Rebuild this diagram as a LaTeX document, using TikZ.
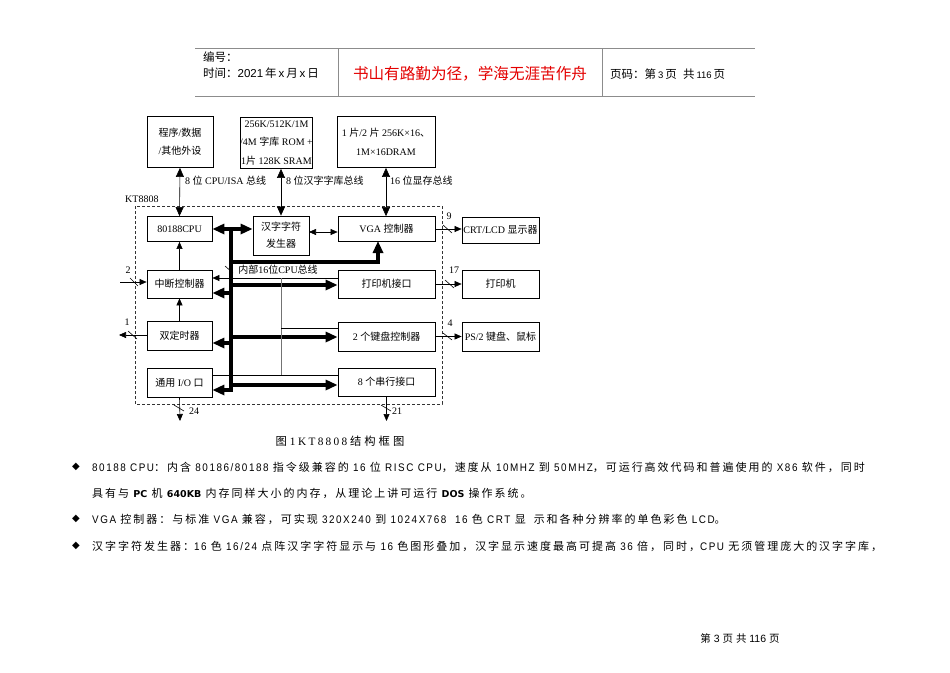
\documentclass[tikz,border=0pt]{standalone}
\usepackage{fontspec}
\usetikzlibrary{arrows.meta}
\setmainfont{Liberation Serif}
\setsansfont{Liberation Sans}
\newfontfamily\cjk{Noto Sans CJK SC}
\newfontfamily\bodycjk[LetterSpace=18]{Noto Sans CJK SC}
\newfontfamily\capcjk[LetterSpace=27]{Noto Sans CJK SC}
\newfontfamily\bodylat[FakeStretch=0.9,LetterSpace=14]{Liberation Sans}
\newfontfamily\bodybold{DejaVu Sans}
\newfontfamily\dejavu{DejaVu Sans}
% automatic switch to the CJK font for CJK characters
\XeTeXinterchartokenstate=1
\newXeTeXintercharclass\CJKcls
\newcommand\CJKsw{\cjk}
\makeatletter
\def\setCJKrange#1#2{\count@=#1\relax
  \loop\XeTeXcharclass\count@=\CJKcls\relax
  \ifnum\count@<#2\relax\advance\count@\@ne\repeat}
\makeatother
\setCJKrange{"4E00}{"9FFF}
\setCJKrange{"3000}{"303F}
\setCJKrange{"FF00}{"FFEF}
\XeTeXinterchartoks 0 \CJKcls = {\begingroup\CJKsw}
\XeTeXinterchartoks 4095 \CJKcls = {\begingroup\CJKsw}
\XeTeXinterchartoks \CJKcls 0 = {\endgroup}
\XeTeXinterchartoks \CJKcls 4095 = {\endgroup}
\newcommand\dfont{\fontsize{10}{12}\selectfont}
\newcommand\bodyfont{\fontsize{11}{13}\selectfont\bodylat\let\CJKsw\bodycjk}
\newcommand\bb[1]{{\bodybold\bfseries\fontsize{9.5}{11}\selectfont #1}}
\definecolor{hdrgray}{gray}{0.55}
\definecolor{redtxt}{RGB}{228,0,0}
\begin{document}
\begin{tikzpicture}[x=1pt,y=-1pt,
  box/.style={draw=black, line width=0.8pt, inner sep=1pt, font=\dfont},
  thinln/.style={line width=0.6pt},
  busln/.style={line width=3.6pt},
  tip/.style={-{Triangle[length=7pt,width=6pt]}},
  dtip/.style={{Triangle[length=7pt,width=6pt]}-{Triangle[length=7pt,width=6pt]}},
  bigd/.style={{Triangle[length=9pt,width=8pt]}-{Triangle[length=9pt,width=8pt]}},
  btip/.style={-{Triangle[length=12pt,width=10pt]}},
  bdtip/.style={{Triangle[length=12pt,width=10pt]}-{Triangle[length=12pt,width=10pt]}},
  lbl/.style={font=\dfont, inner sep=0pt},
  hdrtxt/.style={anchor=west, inner sep=0pt, font=\sffamily\fontsize{11.5}{13}\selectfont},
  bullet/.style={inner sep=0pt, font=\dejavu\fontsize{10}{10}\selectfont},
  bodyln/.style={anchor=west, inner sep=0pt, font=\bodyfont},
  hdr/.style={draw=hdrgray, line width=1pt}]
\fill[white] (0,0) rectangle (950,672);
\useasboundingbox (0,0) rectangle (950,672);

% header
\draw[hdr] (195,48) -- (755,48);
\draw[hdr] (195,96) -- (755,96);
\draw[hdr] (338,48) -- (338,96);
\draw[hdr] (602,48) -- (602,96);
\node[hdrtxt] (hno) at (203,57) {编号：};
\node[hdrtxt] (hdate) at (203,73) {时间：2021\,年\,x\,月\,x\,日};
\node[inner sep=0pt, text=redtxt, font=\fontsize{15.6}{18}\selectfont] (motto) at (470,74) {书山有路勤为径，学海无涯苦作舟};
\node[hdrtxt] (hpage) at (610,74) {页码：第\,{\fontsize{9.5}{11}\selectfont 3}\,页\ \ 共\,{\fontsize{9.5}{11}\selectfont 116}\,页};

% external boxes (top)
\node[box, minimum width=66pt, minimum height=51pt, align=center, font=\fontsize{10}{18}\selectfont] (ext1) at (180,142) {程序/数据\\/其他外设};
\node[box, minimum width=71pt, minimum height=51pt, align=center, inner sep=0pt, font=\fontsize{10}{18.5}\selectfont] (ext2) at (276.5,143) {256K/512K/1M\\/4M 字库 ROM +\\1片 128K SRAM};
\node[box, minimum width=98pt, minimum height=51pt, align=center, font=\fontsize{10}{19}\selectfont] (ext3) at (386,142) {1 片/2 片 256K×16、\\1M×16DRAM};

% bus labels
\node[lbl, anchor=west] (l1) at (185,181) {8 位 CPU/ISA 总线};
\node[lbl, anchor=west] (l2) at (286,181) {8 位汉字字库总线};
\node[lbl, anchor=west] (l3) at (390,181) {16 位显存总线};

% chip frame
\node[lbl, anchor=west] (kt) at (125,199) {KT8808};
\draw[line width=0.6pt, dash pattern=on 3pt off 2pt, draw=black!80] (135,206) rectangle (442,404);

% inner blocks
\node[box, minimum width=65pt, minimum height=25pt] (cpu) at (179.5,229) {80188CPU};
\node[box, minimum width=65pt, minimum height=28pt] (irq) at (179.5,284) {中断控制器};
\node[box, minimum width=65pt, minimum height=29pt] (tmr) at (179.5,336) {双定时器};
\node[box, minimum width=65pt, minimum height=29pt] (io) at (179.5,382.5) {通用 I/O 口};
\node[box, minimum width=56pt, minimum height=39pt, align=center, font=\fontsize{10}{17}\selectfont] (hz) at (281,235.5) {汉字字符\\发生器};
\node[box, minimum width=97pt, minimum height=25pt] (vga) at (386.5,229) {VGA 控制器};
\node[box, minimum width=97pt, minimum height=28pt] (prt) at (386.5,284) {打印机接口};
\node[box, minimum width=97pt, minimum height=29pt] (kbd) at (386.5,336.5) {2 个键盘控制器};
\node[box, minimum width=97pt, minimum height=28pt] (ser) at (386.5,382) {8 个串行接口};

% outside devices
\node[box, minimum width=77pt, minimum height=26pt, inner sep=0pt] (crt) at (500.5,230) {CRT/LCD 显示器};
\node[box, minimum width=77pt, minimum height=28pt] (prn) at (500.5,284) {打印机};
\node[box, minimum width=77pt, minimum height=29pt, inner sep=0pt] (ps2) at (500.5,336.5) {PS/2 键盘、鼠标};

% top buses
\draw[thinln, bigd] (ext1.south) -- (cpu.north);
\draw[thinln, bigd] (ext2.south -| hz.north) -- (hz.north);
\draw[thinln, bigd] (ext3.south) -- (ext3.south |- vga.north);

% left column
\draw[thinln, tip] (irq.north) -- (cpu.south);
\draw[thinln, tip] (tmr.north) -- (irq.south);

% internal bus
\coordinate (busT) at (231,227);
\coordinate (busB) at (231,392);
\draw[busln] (busT) -- (busB);
\draw[busln, bdtip] (cpu.east) -- (cpu.east -| hz.west);
\coordinate (tVga) at (231,262);
\coordinate (vgaIn) at (378,241);
\draw[busln, btip] (tVga) -| (vgaIn);
\coordinate (tPrt) at (231,285);
\coordinate (tIrq) at (231,293);
\coordinate (tKbd) at (231,337);
\coordinate (tTmr) at (231,343);
\coordinate (tSer) at (231,385);
\coordinate (tIo) at (231,390);
\draw[busln, btip] (tPrt) -- (tPrt -| prt.west);
\draw[busln, btip] (tIrq) -- (tIrq -| irq.east);
\draw[busln, btip] (tKbd) -- (tKbd -| kbd.west);
\draw[busln, btip] (tTmr) -- (tTmr -| tmr.east);
\draw[busln, btip] (tSer) -- (tSer -| ser.west);
\draw[busln, btip] (tIo) -- (tIo -| io.east);

% thin internal lines
\coordinate (cpuBus) at (338,278);
\draw[thinln, tip] (cpuBus) -- (cpuBus -| irq.east);
\node[lbl] (cpubus) at (278,270) {内部16位CPU总线};
\draw[thinln] (225,266) -- (233,273);
\coordinate (gTop) at (281,278);
\coordinate (gBot) at (281,375);
\draw[thinln, draw=black!55] (gTop) -- (gBot);
\coordinate (gK) at (281,328);
\draw[thinln] (gK) -- (gK -| kbd.west);
\coordinate (ioL) at (212,375);
\draw[thinln] (ioL) -- (ioL -| ser.west);

% hanzi <-> vga
\coordinate (hzv) at (309,232);
\draw[thinln, dtip] (hzv) -- (hzv -| vga.west);

% to outside devices
\draw[thinln, tip] (vga.east) -- (vga.east -| crt.west);
\draw[thinln, tip] (prt.east) -- (prt.east -| prn.west);
\draw[thinln, tip] (kbd.east) -- (kbd.east -| ps2.west);
\draw[thinln] (443,225) -- (452,233);
\draw[thinln] (445,280) -- (454,288);
\draw[thinln] (443,333) -- (452,340);
\node[lbl] (n9) at (449,216) {9};
\node[lbl] (n17) at (454,270) {17};
\node[lbl] (n4) at (450,323) {4};

% left external signals
\coordinate (in2) at (120,282);
\draw[thinln, tip] (in2) -- (in2 -| irq.west);
\draw[thinln] (130,278) -- (138,286);
\node[lbl] (n2) at (128,270) {2};
\coordinate (out1) at (119,335);
\draw[thinln, tip] (out1 -| tmr.west) -- (out1);
\draw[thinln] (128,331) -- (137,339);
\node[lbl] (n1) at (127,322) {1};

% bottom signals
\coordinate (io24) at (180,421);
\draw[thinln, tip] (io.south) -- (io24);
\draw[thinln] (174,405) -- (184,411);
\node[lbl] (n24) at (194,411) {24};
\coordinate (ser21) at (386.5,421);
\draw[thinln, tip] (ser.south) -- (ser21);
\draw[thinln] (381,405) -- (391,411);
\node[lbl] (n21) at (397,411) {21};

% caption
\node[inner sep=0pt, font=\fontsize{11.3}{13}\selectfont\let\CJKsw\capcjk] (cap) at (340,441) {图 1 {\addfontfeature{LetterSpace=20}KT8808} 结构框图};

% bullets
\node[bullet] (d1) at (76,467) {◆};
\node[bullet] (d3) at (76,519) {◆};
\node[bullet] (d4) at (76,546) {◆};
\node[bodyln] (b1) at (92,467) {80188 CPU：内含 80186/80188 指令级兼容的 16 位 RISC CPU，速度从 10MHZ 到 50MHZ，可运行高效代码和普遍使用的 X86 软件，同时};
\node[bodyln] (b2) at (92,493) {具有与\ \bb{PC}\ 机\ \bb{640KB}\ 内存同样大小的内存，从理论上讲可运行\ \bb{DOS}\ 操作系统。};
\node[bodyln] (b3) at (92,519) {VGA 控制器：与标准 VGA 兼容，可实现 320X240 到 1024X768 \ 16 色 CRT 显\hspace{8pt}示和各种分辨率的单色彩色 LCD。};
\node[bodyln] (b4) at (92,546) {汉字字符发生器：16 色 16/24 点阵汉字字符显示与 16 色图形叠加，汉字显示速度最高可提高 36 倍，同时，CPU 无须管理庞大的汉字字库，};

% footer
\node[inner sep=0pt, font=\sffamily\fontsize{10.5}{12}\selectfont] (foot) at (740,638) {第\ 3\ 页\ 共\ 116\ 页};
\end{tikzpicture}
\end{document}
